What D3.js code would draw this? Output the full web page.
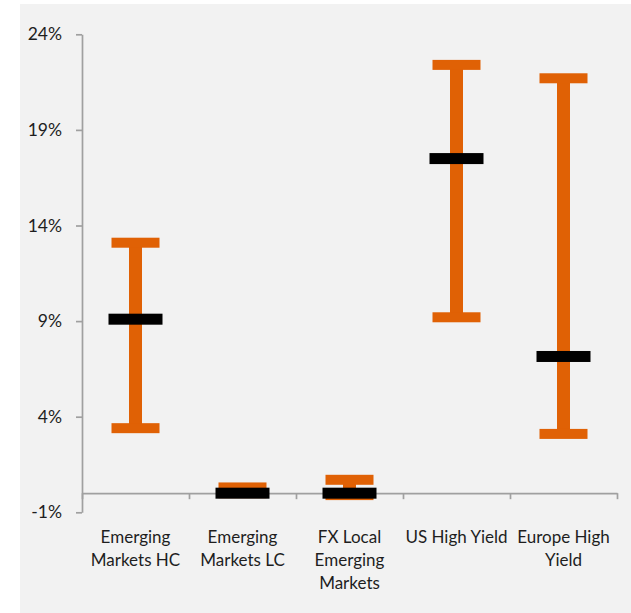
<!DOCTYPE html>
<html>
<head>
<meta charset="utf-8">
<script src="https://cdn.jsdelivr.net/npm/d3@7"></script>
<style>
  body { margin: 0; background: #ffffff; }
  text { font-family: Lato, "Open Sans", sans-serif; fill: #1e1e1e; }
</style>
</head>
<body>
<script>
// categories, one array of lines per label
const categories = ["Emerging Markets HC", "Emerging Markets LC", "FX Local Emerging Markets", "US High Yield", "Europe High Yield"]
const labelLines = [["Emerging", "Markets HC"], ["Emerging", "Markets LC"], ["FX Local", "Emerging", "Markets"], ["US High Yield"], ["Europe High", "Yield"]]

// range ends (orange) and the current value (black)
const highs = [13.1, 0.3, 0.7, 22.4, 21.7]
const lows = [3.4, 0.0, -0.1, 9.2, 3.1]
const mids = [9.1, 0.0, 0.0, 17.5, 7.15]

const yTicks = [-1, 4, 9, 14, 19, 24]

const width = 631, height = 613

var svg = d3.select("body")
          .append("svg")
          .attr("width", width)
          .attr("height", height)

// grey chart area
svg.append("rect")
   .attr("x", 20)
   .attr("y", 4)
   .attr("width", width - 20)
   .attr("height", height - 4)
   .attr("fill", "#f2f2f2")

const y = d3.scaleLinear()
            .domain([-1, 24])
            .range([512.3, 34.3])

const x = d3.scaleBand()
            .domain(categories)
            .range([82, 617])
            .padding(0)

// tick marks between categories
const xEdges = d3.scaleLinear()
                 .domain([0, categories.length])
                 .range([82, 617])

const orange = "#e06105"
const axisColor = "#a0a0a0"

// y axis
const yAxis = d3.axisLeft(y)
                .tickValues(yTicks)
                .tickSize(6)
                .tickSizeOuter(0)
                .tickPadding(14)
                .tickFormat(t => t + "%")

svg.append("g")
   .attr("transform", "translate(82,0)")
   .call(yAxis)
   .call(g => g.selectAll("path, line").attr("stroke", axisColor).attr("stroke-width", 1.7))
   .call(g => g.selectAll("text").attr("font-size", 17.5).attr("fill", "#1e1e1e").style("font-family", "Lato, sans-serif"))

// x axis at 0%
const xAxis = d3.axisBottom(xEdges)
                .ticks(categories.length)
                .tickSize(6)
                .tickSizeOuter(0)
                .tickFormat("")

svg.append("g")
   .attr("transform", "translate(0," + y(0) + ")")
   .call(xAxis)
   .call(g => g.selectAll("path, line").attr("stroke", axisColor).attr("stroke-width", 1.7))

// category labels
svg.append("g")
   .selectAll("text")
   .data(categories)
   .enter()
   .append("text")
   .attr("x", d => x(d) + x.bandwidth() / 2)
   .attr("y", 543)
   .attr("text-anchor", "middle")
   .attr("font-size", 17)
   .selectAll("tspan")
   .data((d, i) => labelLines[i])
   .enter()
   .append("tspan")
   .attr("x", function () { return d3.select(this.parentNode).attr("x") })
   .attr("dy", (d, i) => i === 0 ? 0 : 22.8)
   .text(d => d)

const cx = i => x(categories[i]) + x.bandwidth() / 2

// stems
svg.append("g")
   .selectAll("rect")
   .data(categories)
   .enter()
   .append("rect")
   .attr("x", (d, i) => cx(i) - 6.5)
   .attr("width", 13)
   .attr("y", (d, i) => y(highs[i]))
   .attr("height", (d, i) => y(lows[i]) - y(highs[i]))
   .attr("fill", orange)

// caps at both ends
const caps = categories.flatMap((d, i) => [{ i: i, v: highs[i] }, { i: i, v: lows[i] }])

svg.append("g")
   .selectAll("rect")
   .data(caps)
   .enter()
   .append("rect")
   .attr("x", d => cx(d.i) - 24)
   .attr("width", 48)
   .attr("y", d => y(d.v) - 5)
   .attr("height", 10)
   .attr("fill", orange)

// current value markers
svg.append("g")
   .selectAll("rect")
   .data(categories)
   .enter()
   .append("rect")
   .attr("x", (d, i) => cx(i) - 27)
   .attr("width", 54)
   .attr("y", (d, i) => y(mids[i]) - 5.5)
   .attr("height", 11)
   .attr("fill", "#000000")
</script>
</body>
</html>
